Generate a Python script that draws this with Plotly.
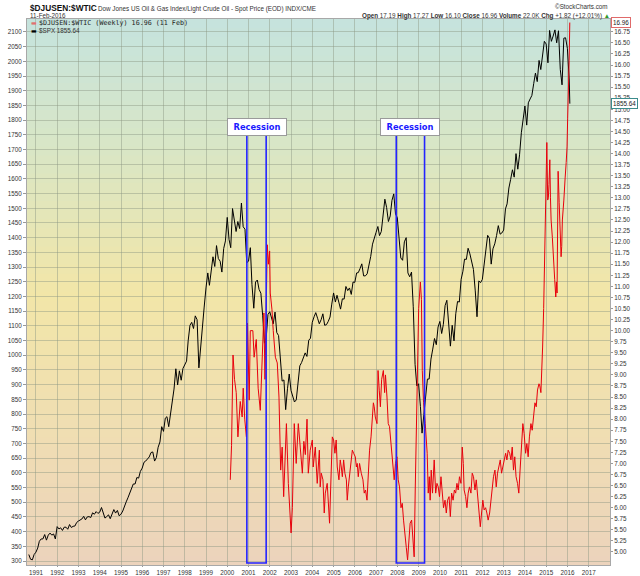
import numpy as np
import pandas as pd
import plotly.graph_objects as go

# ---------------- data ----------------
spx_start = "1990-08-31"
spx_values = [
    322, 306, 304, 322, 330,
    344, 367, 375, 375, 390, 371, 388, 395, 388, 392, 375, 417,
    409, 413, 404, 415, 415, 408, 424, 414, 418, 419, 431, 436,
    439, 443, 452, 440, 450, 451, 448, 464, 459, 468, 462, 466,
    482, 467, 446, 451, 457, 444, 458, 475, 463, 472, 454, 459,
    470, 487, 501, 515, 533, 545, 562, 562, 584, 582, 605, 616,
    636, 640, 646, 654, 669, 671, 640, 652, 687, 705, 757, 741,
    786, 791, 757, 801, 848, 885, 954, 899, 947, 915, 955, 970,
    980, 1049, 1102, 1112, 1091, 1134, 1121, 957, 1017, 1099, 1164, 1229,
    1280, 1238, 1286, 1335, 1302, 1373, 1329, 1320, 1283, 1363, 1389, 1469,
    1394, 1366, 1499, 1452, 1421, 1455, 1431, 1518, 1437, 1429, 1315, 1320,
    1366, 1240, 1160, 1249, 1256, 1224, 1211, 1134, 1041, 1060, 1139, 1148,
    1130, 1107, 1147, 1077, 1067, 990, 912, 916, 815, 886, 936, 880,
    856, 841, 848, 917, 964, 975, 990, 1008, 996, 1051, 1058, 1112,
    1131, 1145, 1126, 1107, 1121, 1141, 1102, 1104, 1115, 1130, 1174, 1212,
    1181, 1204, 1181, 1157, 1192, 1191, 1234, 1220, 1229, 1207, 1249, 1248,
    1280, 1281, 1295, 1311, 1270, 1270, 1277, 1304, 1336, 1378, 1401, 1418,
    1438, 1407, 1421, 1482, 1531, 1503, 1455, 1474, 1527, 1549, 1481, 1468,
    1379, 1331, 1323, 1386, 1400, 1280, 1267, 1283, 1165, 969, 896, 903,
    826, 735, 798, 873, 919, 919, 987, 1021, 1057, 1036, 1096, 1115,
    1074, 1104, 1169, 1187, 1089, 1031, 1102, 1049, 1141, 1183, 1181, 1258,
    1286, 1327, 1326, 1364, 1345, 1321, 1292, 1219, 1131, 1253, 1247, 1258,
    1312, 1366, 1408, 1398, 1310, 1362, 1379, 1407, 1441, 1412, 1416, 1426,
    1498, 1515, 1569, 1598, 1631, 1606, 1686, 1633, 1682, 1757, 1806, 1848,
    1783, 1859, 1872, 1884, 1924, 1960, 1931, 2003, 1972, 2018, 2068, 2059,
    1995, 2105, 2068, 2086, 2107, 2063, 2104, 1972, 1920, 2079, 2080, 2044,
    1940, 1856,
]
spx_last_date = "2016-02-11"

ratio_years = [
    2000.14, 2000.20, 2000.27, 2000.34, 2000.42, 2000.50, 2000.61, 2000.70, 2000.75, 2000.82, 2000.90,
    2000.95, 2001.03, 2001.08, 2001.20, 2001.26, 2001.36, 2001.45, 2001.55, 2001.64, 2001.72, 2001.77,
    2001.88, 2001.93, 2001.99, 2002.02, 2002.10, 2002.16, 2002.26, 2002.35, 2002.43, 2002.51, 2002.58,
    2002.65, 2002.73, 2002.78, 2002.87, 2003.00, 2003.06, 2003.15, 2003.24, 2003.34, 2003.43, 2003.48,
    2003.53, 2003.60, 2003.67, 2003.75, 2003.81, 2003.90, 2004.00, 2004.04, 2004.14, 2004.23, 2004.33,
    2004.37, 2004.42, 2004.50, 2004.56, 2004.61, 2004.70, 2004.81, 2004.89, 2004.94, 2005.00, 2005.06,
    2005.12, 2005.17, 2005.25, 2005.31, 2005.36, 2005.41, 2005.47, 2005.53, 2005.60, 2005.64, 2005.69,
    2005.78, 2005.88, 2005.94, 2006.02, 2006.07, 2006.11, 2006.16, 2006.22, 2006.30, 2006.38, 2006.44,
    2006.50, 2006.57, 2006.63, 2006.69, 2006.76, 2006.80, 2006.87, 2006.91, 2006.96, 2007.04, 2007.09,
    2007.15, 2007.20, 2007.26, 2007.34, 2007.40, 2007.44, 2007.51, 2007.57, 2007.63, 2007.71, 2007.79,
    2007.85, 2007.91, 2007.98, 2008.04, 2008.10, 2008.17, 2008.23, 2008.29, 2008.36, 2008.42, 2008.48,
    2008.54, 2008.60, 2008.67, 2008.73, 2008.79, 2008.84, 2008.89, 2008.95, 2009.00, 2009.08, 2009.13,
    2009.17, 2009.23, 2009.31, 2009.40, 2009.45, 2009.50, 2009.54, 2009.59, 2009.65, 2009.73, 2009.80,
    2009.86, 2009.92, 2009.98, 2010.05, 2010.11, 2010.17, 2010.24, 2010.30, 2010.36, 2010.43, 2010.49,
    2010.55, 2010.62, 2010.68, 2010.74, 2010.80, 2010.86, 2010.92, 2010.99, 2011.05, 2011.10, 2011.14,
    2011.21, 2011.27, 2011.33, 2011.39, 2011.46, 2011.52, 2011.58, 2011.65, 2011.71, 2011.77, 2011.84,
    2011.90, 2011.96, 2012.02, 2012.08, 2012.15, 2012.21, 2012.27, 2012.34, 2012.40, 2012.46, 2012.52,
    2012.59, 2012.65, 2012.71, 2012.78, 2012.84, 2012.90, 2012.96, 2013.02, 2013.09, 2013.15, 2013.21,
    2013.28, 2013.34, 2013.40, 2013.46, 2013.52, 2013.58, 2013.65, 2013.71, 2013.77, 2013.83, 2013.90,
    2013.96, 2014.03, 2014.09, 2014.15, 2014.21, 2014.28, 2014.34, 2014.40, 2014.47, 2014.53, 2014.59,
    2014.66, 2014.70, 2014.75, 2014.79, 2014.83, 2014.88, 2014.93, 2014.96, 2015.03, 2015.07, 2015.10,
    2015.13, 2015.17, 2015.20, 2015.23, 2015.29, 2015.35, 2015.40, 2015.45, 2015.48, 2015.51, 2015.54,
    2015.56, 2015.61, 2015.65, 2015.67, 2015.70, 2015.73, 2015.76, 2015.83, 2015.86, 2015.89, 2015.94,
    2015.98, 2016.01, 2016.05, 2016.08, 2016.11,
]
ratio_values = [
    6.63, 7.40, 9.45, 8.90, 8.60, 7.60, 8.40, 8.05, 8.70, 8.00, 7.60,
    10.17, 8.43, 10.00, 10.00, 9.40, 9.80, 8.70, 8.20, 9.40, 10.40, 8.90,
    11.94, 11.50, 11.80, 10.85, 10.47, 10.00, 9.40, 9.27, 8.50, 6.85, 7.37,
    6.25, 7.15, 7.90, 6.55, 5.43, 6.00, 7.90, 7.00, 7.90, 7.37, 7.00,
    6.78, 7.50, 7.20, 8.00, 6.78, 7.30, 7.53, 6.92, 7.37, 6.55, 7.30,
    6.47, 6.78, 6.63, 5.88, 6.33, 6.55, 5.65, 6.63, 7.60, 7.53, 7.23,
    7.53, 6.92, 6.63, 7.08, 6.92, 6.70, 7.08, 6.78, 6.63, 6.17, 6.47,
    6.92, 7.30, 7.23, 7.15, 6.92, 7.00, 6.70, 7.00, 6.78, 6.63, 6.33,
    6.40, 6.17, 6.78, 7.30, 7.60, 7.98, 8.37, 8.28, 8.05, 7.90, 9.10,
    8.64, 8.28, 8.90, 9.10, 8.60, 9.00, 8.50, 7.90, 7.83, 7.45, 6.92,
    6.63, 7.00, 7.15, 6.63, 6.47, 6.00, 6.10, 5.72, 5.27, 5.10, 4.82,
    5.27, 5.65, 5.72, 5.35, 4.89, 6.40, 7.53, 9.04, 10.50, 11.10, 10.70,
    9.10, 8.37, 7.90, 7.23, 6.33, 6.70, 6.17, 6.85, 6.33, 7.08, 6.33,
    6.55, 6.47, 6.25, 6.70, 6.25, 6.00, 6.17, 5.88, 6.17, 6.25, 5.80,
    6.33, 6.17, 6.40, 6.33, 6.55, 6.40, 6.70, 6.55, 7.37, 7.00, 6.40,
    6.25, 6.00, 6.33, 6.47, 6.33, 6.78, 6.70, 6.40, 6.63, 6.33, 5.95,
    5.57, 5.88, 6.17, 5.95, 6.00, 5.88, 5.72, 5.88, 6.17, 6.47, 6.70,
    6.85, 6.47, 6.78, 7.00, 7.08, 6.78, 6.92, 7.08, 7.23, 7.08, 7.30,
    7.23, 7.08, 7.37, 6.85, 7.15, 6.70, 6.55, 6.33, 6.85, 7.45, 7.90,
    7.68, 7.23, 7.45, 7.15, 7.60, 7.90, 7.75, 8.05, 8.37, 8.28, 8.66,
    8.80, 8.75, 8.60, 9.04, 9.63, 10.50, 11.75, 12.80, 14.25, 12.95, 13.00,
    13.30, 13.86, 13.00, 12.50, 12.10, 11.40, 11.15, 10.76, 11.10, 10.85, 11.90,
    13.60, 12.90, 12.20, 11.80, 11.67, 11.90, 12.50, 12.95, 13.40, 13.45, 13.80,
    14.15, 14.80, 15.30, 16.10, 16.96,
]

recessions = [("2000-12-02", "2001-10-30"), ("2007-12-13", "2009-04-12")]
left_ticks = list(range(300, 2101, 50))
right_ticks = [round(v, 2) for v in np.arange(5.0, 16.76, 0.25)]
year_ticks = [f"{y}-01-01" for y in range(1991, 2018)]

# ---------------- helpers ----------------
def yr_to_date(d):
    y = int(d)
    return pd.Timestamp(y, 1, 1) + pd.Timedelta(days=(d - y) * 365.25)

spx_dates = list(pd.date_range(spx_start, periods=len(spx_values), freq="ME"))
spx_dates[-1] = pd.Timestamp(spx_last_date)
ratio_dates = [yr_to_date(d) for d in ratio_years]

W, H = 640, 576
L, R, T, B = 27, 30, 19, 11
PW, PH = W - L - R, H - T - B

def px(x):
    return (x - L) / PW

def py(y):
    return (H - B - y) / PH

fig = go.Figure()
fig.add_trace(go.Scatter(x=spx_dates, y=spx_values, mode="lines",
                         line=dict(color="black", width=1), yaxis="y", name="$SPX",
                         showlegend=False))
fig.add_trace(go.Scatter(x=ratio_dates, y=ratio_values, mode="lines",
                         line=dict(color="#e8000b", width=1), yaxis="y2",
                         name="$DJUSEN:$WTIC", showlegend=False))

# background gradient bands
stops = [(0.0, (236, 211, 188)), (0.25, (240, 222, 178)), (0.5, (242, 230, 168)),
         (0.75, (218, 230, 196)), (1.0, (197, 227, 222))]

def grad(t):
    for (a, ca), (b, cb) in zip(stops[:-1], stops[1:]):
        if a <= t <= b:
            f = (t - a) / (b - a)
            return tuple(int(round(ca[i] + (cb[i] - ca[i]) * f)) for i in range(3))
    return stops[-1][1]

shapes = []
N = 60
for i in range(N):
    c = grad((i + 0.5) / N)
    shapes.append(dict(type="rect", xref="x domain", yref="y domain",
                       x0=0, x1=1, y0=i / N, y1=(i + 1) / N + 0.002,
                       fillcolor=f"rgb{c}", line=dict(width=0), layer="below"))

for (a, b) in recessions:
    shapes.append(dict(type="rect", xref="x", yref="y domain", x0=a, x1=b,
                       y0=py(563), y1=py(126), line=dict(color="#2424ff", width=1.6),
                       fillcolor="rgba(0,0,0,0)", layer="above"))

annotations = []
for (a, b) in recessions:
    mid = pd.Timestamp(a) + (pd.Timestamp(b) - pd.Timestamp(a)) / 2
    annotations.append(dict(x=mid, y=py(118), xref="x", yref="paper",
                            text="<b>Recession</b>", showarrow=False,
                            font=dict(family="DejaVu Sans", size=8.3, color="#1a1aff"),
                            bgcolor="white", bordercolor="#9a9a9a", borderwidth=1,
                            borderpad=2, width=54, height=12))

small = dict(family="Liberation Sans, Arial", size=6.3, color="#333333")
annotations += [
    dict(x=px(28), y=py(8), xref="paper", yref="paper", xanchor="left", yanchor="middle",
         text="<b>$DJUSEN:$WTIC</b>", showarrow=False,
         font=dict(family="Liberation Sans, Arial", size=8.3, color="#111111")),
    dict(x=px(96), y=py(8.5), xref="paper", yref="paper", xanchor="left", yanchor="middle",
         text="Dow Jones US Oil & Gas Index/Light Crude Oil - Spot Price (EOD) INDX/CME",
         showarrow=False, font=small),
    dict(x=px(28), y=py(15.5), xref="paper", yref="paper", xanchor="left", yanchor="middle",
         text="11-Feb-2016", showarrow=False, font=small),
    dict(x=px(610), y=py(6), xref="paper", yref="paper", xanchor="right", yanchor="middle",
         text="©StockCharts.com", showarrow=False, font=small),
    dict(x=px(612), y=py(15.5), xref="paper", yref="paper", xanchor="right", yanchor="middle",
         text=("<b>Open</b> 17.19 <b>High</b> 17.27 <b>Low</b> 16.10 <b>Close</b> 16.96 "
               "<b>Volume</b> 22.0K <b>Chg</b> +1.82 (+12.01%) <span style='color:#2a9a2a'>▲</span>"),
         showarrow=False, font=small),
    dict(x=px(29), y=py(23), xref="paper", yref="paper", xanchor="left", yanchor="middle",
         text="<span style='color:#e07070'>▬</span>", showarrow=False,
         font=dict(family="DejaVu Sans", size=6)),
    dict(x=px(37), y=py(23), xref="paper", yref="paper", xanchor="left", yanchor="middle",
         text="$DJUSEN:$WTIC (Weekly) 16.96 (11 Feb)", showarrow=False,
         font=dict(family="DejaVu Sans Mono", size=6.7, color="#222222")),
    dict(x=px(29), y=py(30), xref="paper", yref="paper", xanchor="left", yanchor="middle",
         text="▬", showarrow=False, font=dict(family="DejaVu Sans", size=6, color="black")),
    dict(x=px(37), y=py(30), xref="paper", yref="paper", xanchor="left", yanchor="middle",
         text="$SPX 1855.64", showarrow=False, font=small),
    dict(x=px(611), y=ratio_values[-1], xref="paper", yref="y2", xanchor="left", yanchor="middle",
         text="16.96", showarrow=False, bgcolor="white", bordercolor="#e06a6a",
         borderwidth=1, borderpad=1, font=dict(family="Liberation Sans, Arial", size=6.3, color="#222")),
    dict(x=px(611), y=spx_values[-1], xref="paper", yref="y", xanchor="left", yanchor="middle",
         text="1855.64", showarrow=False, bgcolor="white", bordercolor="#3c8c8c",
         borderwidth=1, borderpad=1, font=dict(family="Liberation Sans, Arial", size=6.3, color="#222")),
]

grid = "rgba(140,150,130,0.45)"
tickfont = dict(family="Liberation Sans, Arial", size=6.3, color="#333333")
fig.update_layout(
    width=W, height=H, margin=dict(l=L, r=R, t=T, b=B, autoexpand=False),
    paper_bgcolor="white", plot_bgcolor="rgba(0,0,0,0)",
    shapes=shapes, annotations=annotations, showlegend=False,
    xaxis=dict(type="date", range=["1990-07-31", "2018-01-01"], tickvals=year_ticks,
               tickformat="%Y", showgrid=True, gridcolor=grid, gridwidth=1,
               ticks="outside", ticklen=1, tickcolor="#999", tickfont=tickfont,
               showline=True, linecolor="#a8a8a8", mirror=True, zeroline=False,
               automargin=False),
    yaxis=dict(range=[286.4, 2144], tickvals=left_ticks, showgrid=True, gridcolor=grid,
               gridwidth=1, ticks="outside", ticklen=3, tickcolor="#999", tickfont=tickfont,
               showline=True, linecolor="#a8a8a8", mirror=True, zeroline=False,
               automargin=False),
    yaxis2=dict(range=[4.706, 17.04], tickvals=right_ticks, tickformat=".2f",
                overlaying="y", side="right", showgrid=False, ticks="outside", ticklen=2,
                tickcolor="#999", tickfont=tickfont, zeroline=False, automargin=False),
)

fig.write_html("out.html", config={"displayModeBar": False},
               post_script="document.body.style.margin='0px';document.body.style.overflow='hidden';")
